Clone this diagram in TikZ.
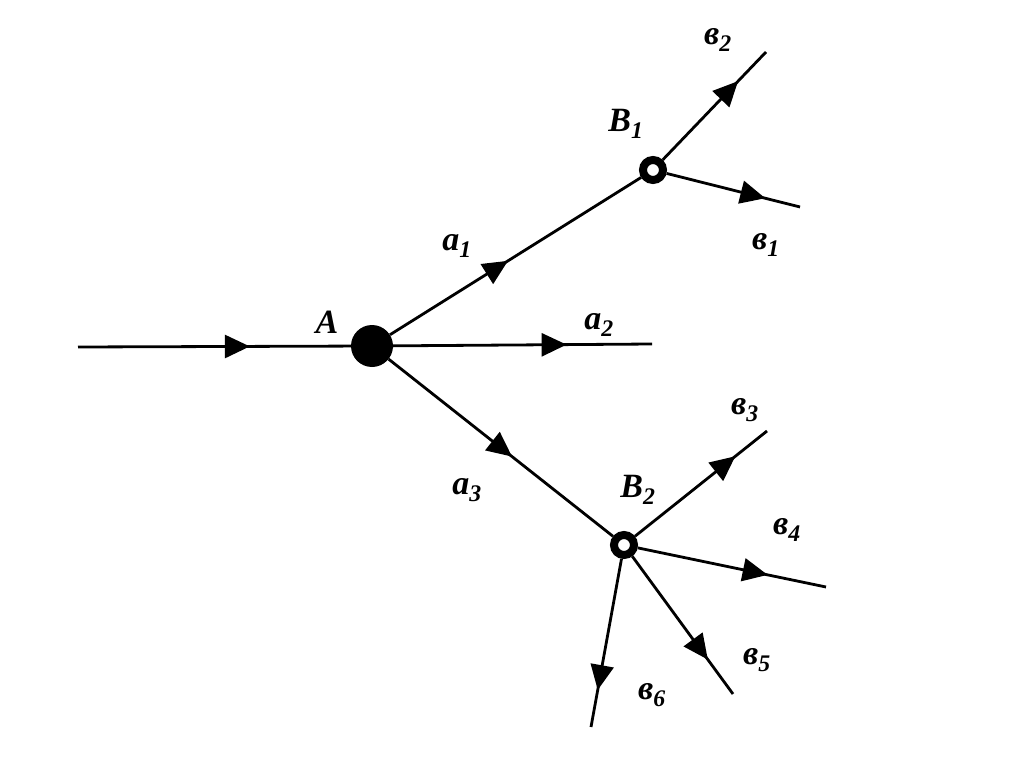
\documentclass[tikz,border=0pt]{standalone}
\usepackage{fontspec}
\setmainfont{Liberation Serif}
\usetikzlibrary{arrows.meta, decorations.markings}
\newcommand{\lab}[2]{\textbf{\textit{#1}}\textsubscript{\textbf{\textit{#2}}}}
\tikzset{
    flow/.style={line width=2.8pt, postaction={decorate, decoration={markings,
        mark=at position #1 with {\arrow{Triangle[length=25pt, width=23pt]}}}}},
    mainnode/.style={circle, fill=black, minimum size=42pt, inner sep=0pt},
    subnode/.style={circle, draw, line width=8pt, minimum size=20pt, inner sep=0pt},
    lbl/.style={font=\fontsize{34}{38}\selectfont}
}

\begin{document}
\begin{tikzpicture}[x=1pt, y=-1pt]
    \useasboundingbox (0,0) rectangle (1024,767);

    % Nodes
    \node[mainnode] (A) at (372,346) {};
    \node[subnode] (B1) at (653,170) {};
    \node[subnode] (B2) at (624,545) {};

    % Free ends
    \coordinate (in) at (78,347);
    \coordinate (a2end) at (652,344);
    \coordinate (b1end) at (800,207);
    \coordinate (b2end) at (766,52);
    \coordinate (b3end) at (767,431);
    \coordinate (b4end) at (826,587);
    \coordinate (b5end) at (733,694);
    \coordinate (b6end) at (591,727);

    % Branches
    \draw[flow=0.63] (in) -- (A);
    \draw[flow=0.47] (A) -- (B1);
    \draw[flow=0.67] (A) -- (a2end);
    \draw[flow=0.55] (A) -- (B2);
    \draw[flow=0.73] (B1) -- (b2end);
    \draw[flow=0.74] (B1) -- (b1end);
    \draw[flow=0.76] (B2) -- (b3end);
    \draw[flow=0.69] (B2) -- (b4end);
    \draw[flow=0.75] (B2) -- (b5end);
    \draw[flow=0.78] (B2) -- (b6end);

    % Labels
    \node[lbl] (labA) at (327,322) {\textbf{\textit{A}}};
    \node[lbl] (labB1) at (626,124) {\lab{B}{1}};
    \node[lbl] (labB2) at (638,490) {\lab{B}{2}};
    \node[lbl] (laba1) at (457,246) {\lab{a}{1}};
    \node[lbl] (laba2) at (599,325) {\lab{a}{2}};
    \node[lbl] (laba3) at (467,490) {\lab{a}{3}};
    \node[lbl] (labb1) at (766,245) {\lab{в}{1}};
    \node[lbl] (labb2) at (718,40) {\lab{в}{2}};
    \node[lbl] (labb3) at (745,410) {\lab{в}{3}};
    \node[lbl] (labb4) at (787,530) {\lab{в}{4}};
    \node[lbl] (labb5) at (757,660) {\lab{в}{5}};
    \node[lbl] (labb6) at (652,695) {\lab{в}{6}};
\end{tikzpicture}
\end{document}
